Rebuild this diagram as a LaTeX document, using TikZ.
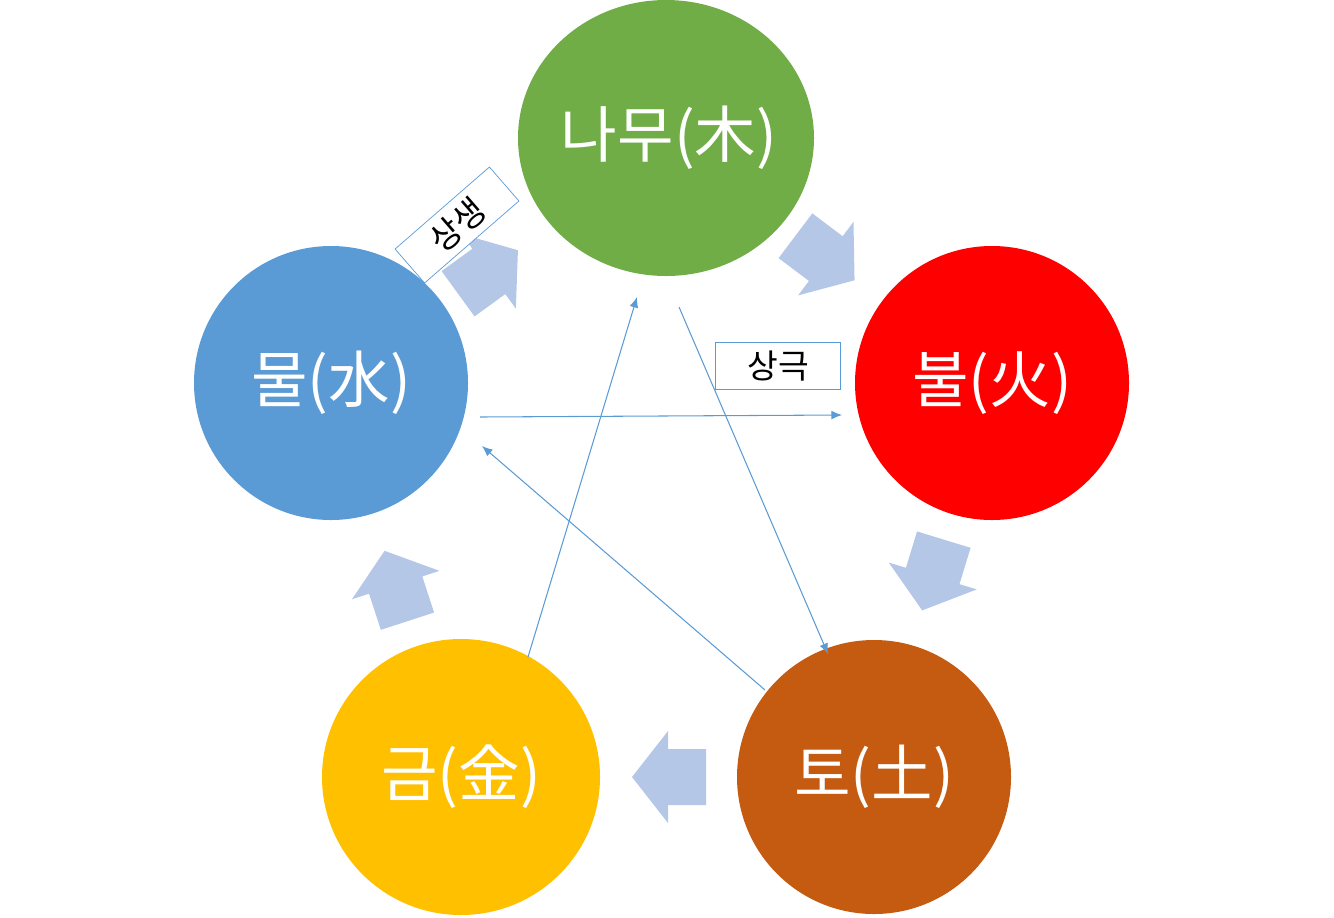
\documentclass[tikz,border=0pt]{standalone}
\usepackage{fontspec}
\setmainfont{Noto Sans CJK KR}
\begin{document}
\begin{tikzpicture}[x=0.02cm,y=-0.02cm,
  thin/.style={draw=blue5,line width=0.6pt,-{Latex[length=6pt,width=5pt]}},
  lbl/.style={draw=blue5,fill=white,font=\fontsize{19}{21}\selectfont,inner sep=4pt}]
\usetikzlibrary{shapes.geometric,arrows.meta}
\definecolor{blue5}{HTML}{5B9BD5}
\definecolor{lb}{HTML}{B4C7E7}
\useasboundingbox (0,0) rectangle (1334,917);
\fill[fill={rgb,255:red,112;green,173;blue,71}] (666,138) ellipse [x radius=148,y radius=138];
\fill[red] (992,383) circle [radius=137];
\fill[blue5] (331,383) circle [radius=137];
\fill[fill={rgb,255:red,255;green,192;blue,0}] (461,777) ellipse [x radius=139,y radius=138];
\fill[fill={rgb,255:red,197;green,90;blue,17}] (874,777) circle [radius=137];
\tikzset{t/.style={text=white,font=\fontsize{35}{37}\selectfont}}
\node[t] (wood) at (669,138) {나무(木)};
\node[t] (fire) at (992,383) {불(火)};
\node[t] (water) at (331,383) {물(水)};
\node[t] (metal) at (461,777) {금(金)};
\node[t] (earth) at (874,777) {토(土)};
\tikzset{blk/.pic={\fill[lb] (-37,-28) -- (1,-28) -- (1,-46) -- (37,0) -- (1,46) -- (1,28) -- (-37,28) -- cycle;}}
\pic[rotate=-37] at (825,258) {blk};
\pic[rotate=-107] at (933,575) {blk};
\pic[rotate=180] at (669,777) {blk};
\pic[rotate=108] at (396,586) {blk};
\pic[rotate=36] at (488,272) {blk};
\coordinate (a1) at (480,417); \coordinate (a2) at (842,415);
\coordinate (b1) at (679,307); \coordinate (b2) at (828,654);
\coordinate (c1) at (765,690); \coordinate (c2) at (482,446);
\coordinate (d1) at (528,657); \coordinate (d2) at (637,297);
\draw[thin] (a1) -- (a2);
\draw[thin] (b1) -- (b2);
\draw[thin] (c1) -- (c2);
\draw[thin] (d1) -- (d2);
\node[lbl,minimum width=125*0.02cm,minimum height=47*0.02cm] (sk) at (778,366) {상극};
\node[lbl,rotate=41,minimum width=125*0.02cm,minimum height=45*0.02cm] (ss) at (457,225) {상생};
\end{tikzpicture}
\end{document}
